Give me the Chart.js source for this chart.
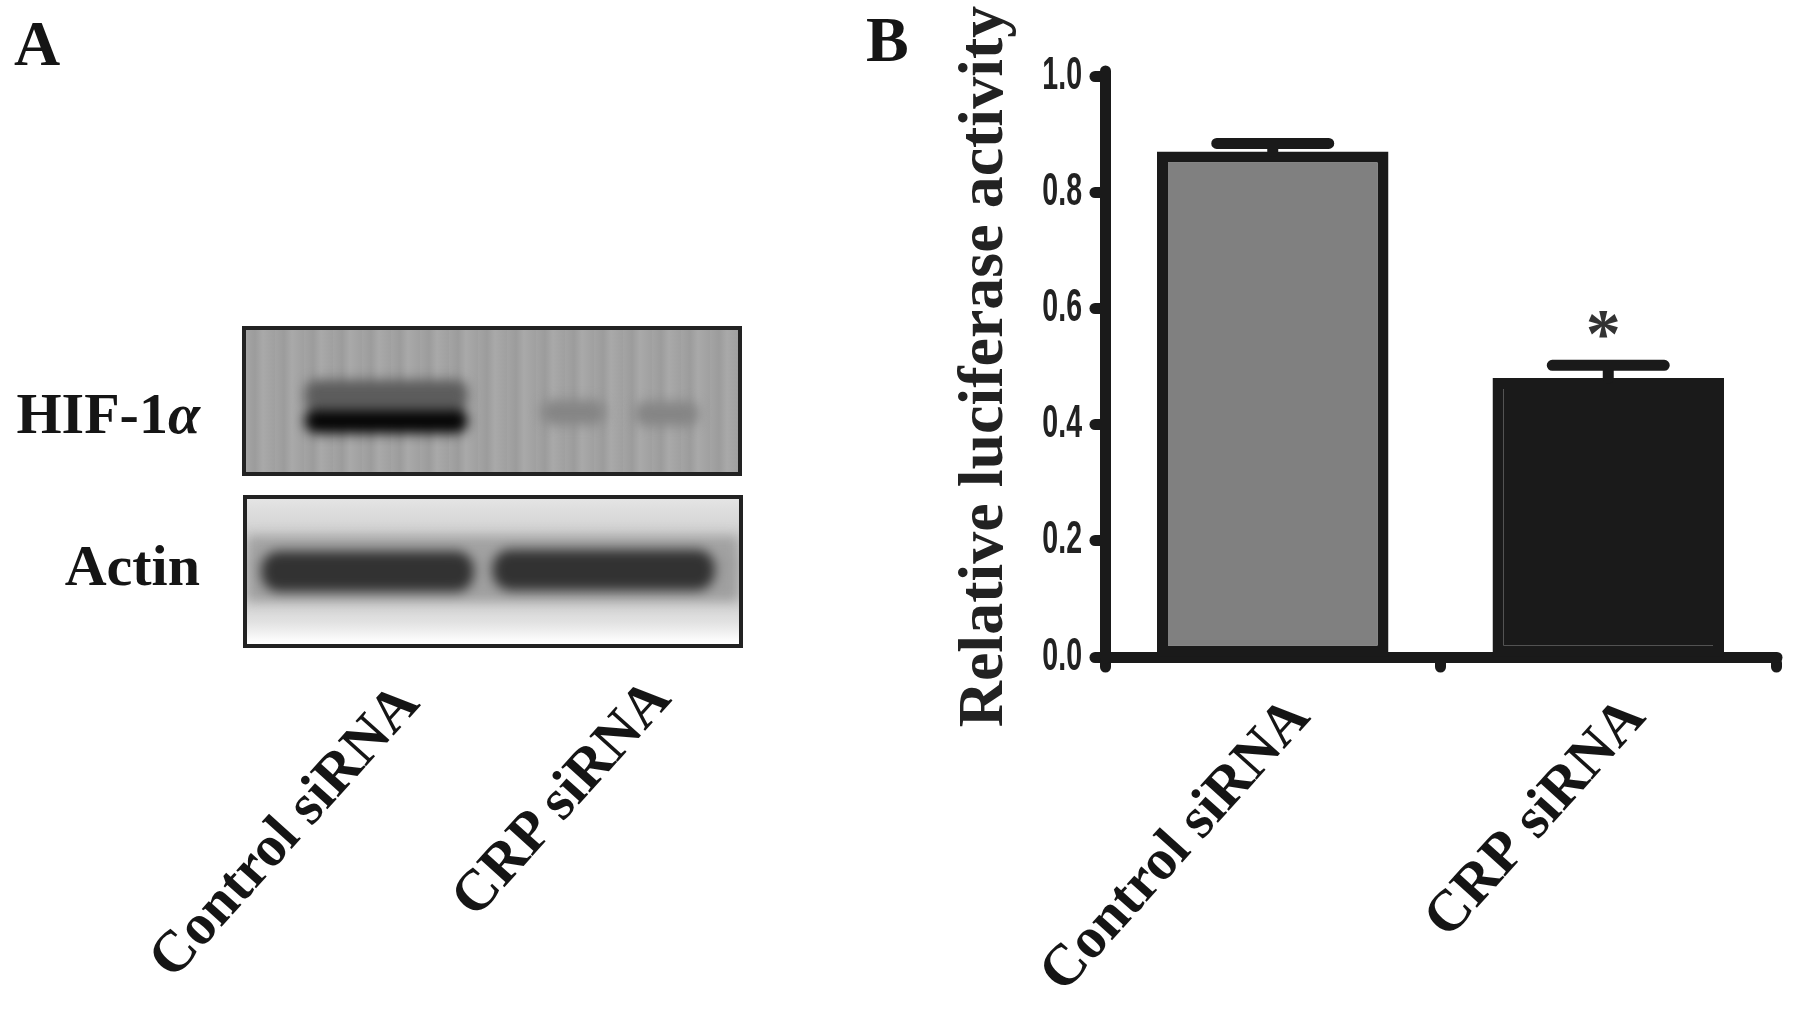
<!DOCTYPE html>
<html>
<head>
<meta charset="utf-8">
<title>HIF-1α and luciferase activity</title>
<script src="https://cdn.jsdelivr.net/npm/chart.js@4/dist/chart.umd.min.js"></script>
<style>
    html, body { margin: 0; padding: 0; background: #fff; }
    body { position: relative; width: 1795px; height: 1010px; overflow: hidden; font-family: "Liberation Serif", serif; font-weight: bold; color: #151515; }
    .panel, .band-label, .lane-label { position: absolute; white-space: nowrap; line-height: 1; }
    .panel { font-size: 64px; }
    .band-label { font-size: 58px; right: 1595px; transform: translateY(-50%); }
    .lane-label { font-size: 58px; transform: translate(-50%, -50%) rotate(-48deg); }
    .blot { position: absolute; box-sizing: border-box; border: 4px solid #222; overflow: hidden; }
    .blot canvas { position: absolute; left: 0; top: 0; filter: blur(6px); }
    #blot-hif { left: 242px; top: 326px; width: 500px; height: 150px;
        background: repeating-linear-gradient(90deg, #a4a4a4 0, #9c9c9c 9px, #a9a9a9 17px, #a0a0a0 29px); }
    #blot-actin { left: 243px; top: 495px; width: 500px; height: 153px;
        background: linear-gradient(180deg, #e4e4e4 0, #d4d4d4 20%, #c4c4c4 45%, #c8c8c8 65%, #e2e2e2 85%, #fbfbfb 97%, #fff 100%); }
    #chart-b { position: absolute; left: 840px; top: 0; }
</style>
</head>
<body>
<div class="panel" style="left:14px;top:12px">A</div>
<div class="panel" style="left:866px;top:8px">B</div>

<div class="band-label" style="top:414px">HIF-1<i>α</i></div>
<div class="band-label" style="top:566px">Actin</div>
<div class="blot" id="blot-hif"><canvas id="canvas-hif" width="492" height="142"></canvas></div>
<div class="blot" id="blot-actin"><canvas id="canvas-actin" width="492" height="145"></canvas></div>
<div class="lane-label" style="left:283px;top:830px">Control siRNA</div>
<div class="lane-label" style="left:560px;top:797px">CRP siRNA</div>

<canvas id="chart-b" width="955" height="1010"></canvas>

<script>
// Data: panel B
const categories = ['Control siRNA', 'CRP siRNA'];
const activity = [0.87, 0.48];
const errorTops = [0.884, 0.502];
const significance = ['', '*'];
const yTicks = [0, 0.2, 0.4, 0.6, 0.8, 1.0];
const yTickLabels = ['0.0', '0.2', '0.4', '0.6', '0.8', '1.0'];
const barColors = ['#808080', '#1a1a1a'];

// Data: panel A, band extents as percent of the blot (x = lane span, y = height)
const hifHaze = [{ x: [12, 45], y: 54 }];
const hifCore = [{ x: [12, 45], y: 36 }];
const hifFaint = [{ x: [60, 73], y: 42 }, { x: [79, 92], y: 41 }];
const actinHalo = [{ x: [0, 100], y: 52 }];
const actinBands = [{ x: [3, 46], y: 50 }, { x: [50, 95], y: 51 }];

const INK = '#1a1a1a';

// Blots
function band(data, color, thickness, radius) {
    return { data, backgroundColor: color, barThickness: thickness, borderRadius: radius, borderSkipped: false };
}

function makeBlot(id, datasets) {
    return new Chart(document.getElementById(id), {
        type: 'bar',
        data: { datasets },
        options: {
            indexAxis: 'y',
            responsive: false,
            animation: false,
            grouped: false,
            layout: { padding: 0 },
            plugins: { legend: { display: false }, tooltip: { enabled: false } },
            scales: {
                x: { type: 'linear', min: 0, max: 100, display: false },
                y: { type: 'linear', min: 0, max: 100, display: false, offset: false }
            }
        }
    });
}

makeBlot('canvas-hif', [
    band(hifHaze, '#5c5c5c', 30, 12),
    band(hifFaint, '#858585', 24, 12),
    band(hifCore, '#050505', 24, 12)
]);

makeBlot('canvas-actin', [
    band(actinHalo, 'rgba(110,110,110,0.45)', 66, 0),
    band(actinBands, '#000', 40, 18)
]);

// Panel B extras: round line ends, error bars, narrow tick labels, asterisk
const panelExtras = {
    id: 'panelExtras',
    beforeDraw(chart) {
        chart.ctx.lineCap = 'round';
    },
    afterDraw(chart) {
        const { ctx, scales: { x, y } } = chart;
        ctx.save();
        ctx.strokeStyle = INK;
        ctx.lineWidth = 11;
        ctx.lineCap = 'round';
        errorTops.forEach((top, i) => {
            const cx = x.getPixelForValue(i);
            const py = y.getPixelForValue(top);
            ctx.beginPath();
            ctx.moveTo(cx, y.getPixelForValue(activity[i]));
            ctx.lineTo(cx, py);
            ctx.moveTo(cx - 56, py);
            ctx.lineTo(cx + 56, py);
            ctx.stroke();
            if (significance[i]) {
                ctx.fillStyle = '#333';
                ctx.font = 'bold 70px "Liberation Serif"';
                ctx.textAlign = 'center';
                ctx.textBaseline = 'alphabetic';
                ctx.fillText(significance[i], cx - 5, py + 0 - 8);
            }
        });
        // tick labels are squeezed in the original figure
        ctx.fillStyle = '#222';
        ctx.font = 'bold 46px "Liberation Sans"';
        ctx.textAlign = 'right';
        ctx.textBaseline = 'middle';
        yTicks.forEach((tick, i) => {
            ctx.save();
            ctx.translate(y.left + y.width - 23, y.getPixelForValue(tick));
            ctx.scale(0.62, 1);
            ctx.fillText(yTickLabels[i], 0, 0);
            ctx.restore();
        });
        ctx.restore();
    }
};

new Chart(document.getElementById('chart-b'), {
    type: 'bar',
    data: {
        labels: categories,
        datasets: [{
            data: activity,
            backgroundColor: barColors,
            borderColor: INK,
            borderWidth: 11,
            borderSkipped: false,
            barPercentage: 0.69,
            categoryPercentage: 1
        }]
    },
    options: {
        responsive: false,
        animation: false,
        layout: { padding: { top: 76, right: 19, left: 0, bottom: 0 } },
        plugins: { legend: { display: false }, tooltip: { enabled: false } },
        scales: {
            x: {
                border: { color: INK, width: 11 },
                grid: { display: true, drawOnChartArea: false, drawTicks: true, tickColor: INK, tickWidth: 11, tickLength: 10 },
                ticks: {
                    autoSkip: false,
                    minRotation: 48,
                    maxRotation: 48,
                    labelOffset: 28,
                    padding: 18,
                    color: '#151515',
                    font: { family: '"Liberation Serif"', size: 58, weight: 'bold' }
                },
                afterFit(scale) { scale.height = 353; }
            },
            y: {
                min: 0,
                max: 1,
                border: { color: INK, width: 11 },
                grid: { display: true, drawOnChartArea: false, drawTicks: true, tickColor: INK, tickWidth: 11, tickLength: 10 },
                ticks: { display: false, stepSize: 0.2 },
                title: {
                    display: true,
                    text: 'Relative luciferase activity',
                    color: '#222',
                    padding: { top: 107, bottom: 0 },
                    font: { family: '"Liberation Serif"', size: 64, weight: 'bold', lineHeight: 1.2 }
                },
                afterFit(scale) { scale.width = 265; }
            }
        }
    },
    plugins: [panelExtras]
});
</script>
</body>
</html>
